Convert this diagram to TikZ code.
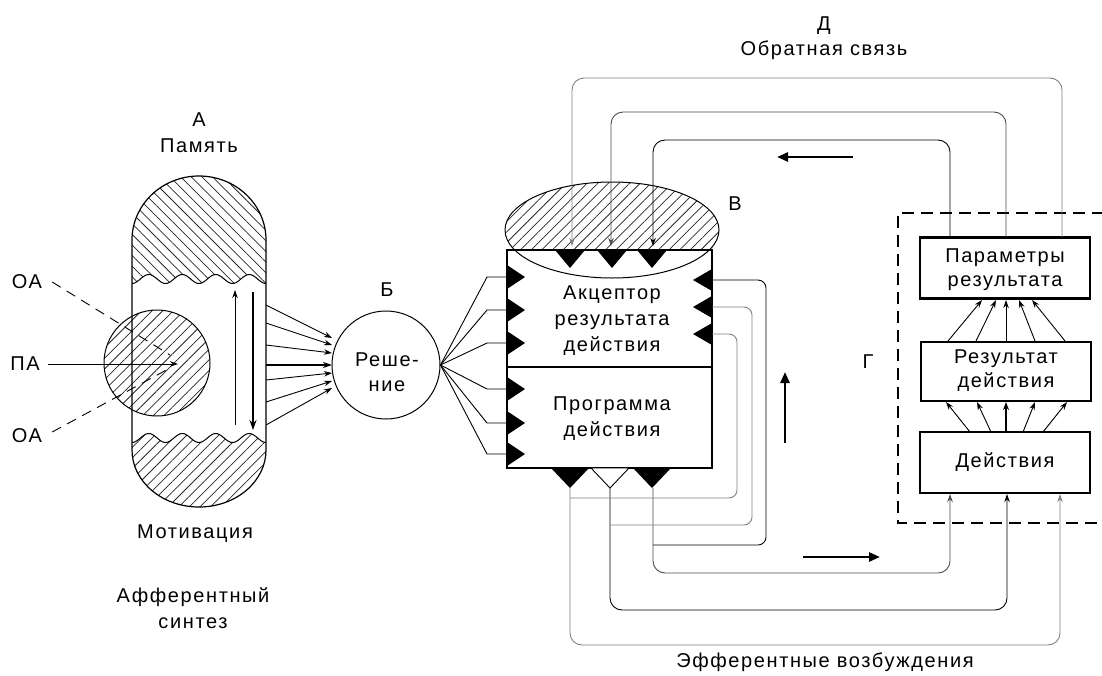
\documentclass[tikz,border=0pt]{standalone}
\usepackage{fontspec}
\setmainfont[LetterSpace=8]{Liberation Sans}
\usetikzlibrary{patterns.meta,arrows.meta,calc}
\tikzset{
  lbl/.style={font=\fontsize{20}{26}\selectfont, inner sep=0pt, align=center},
  rlbl/.style={font=\fontsize{20}{24}\selectfont, inner sep=0pt, align=center},
  conn/.style={line width=0.9pt, draw=black},
  gconn/.style={line width=0.9pt, draw=black!50},
  arr/.style={-{Stealth[length=8pt,width=5.5pt]}},
  bigarr/.style={line width=2.6pt,-{Triangle[length=11pt,width=9pt]}},
  hatchA/.style={pattern={Lines[angle=45,distance=7.5pt,line width=0.75pt]}, pattern color=black!85},
  hatchB/.style={pattern={Lines[angle=-45,distance=7.5pt,line width=0.75pt]}, pattern color=black!85},
  mainbox/.style={draw, line width=2.6pt, rectangle, inner sep=0pt},
  rbox/.style={draw, line width=2.6pt, rectangle, inner sep=0pt, minimum width=170pt},
  dashbox/.style={line width=2.4pt, dash pattern=on 12pt off 7pt},
}
\begin{document}
\begin{tikzpicture}[x=1pt,y=-1pt]
\path[use as bounding box] (0,0) rectangle (1102,675);

% ---------------- A: capsule ----------------
\fill[hatchB] plot[domain=132:266,samples=120] (\x,{279+4.5*cos((\x-132)*10.746)})
  -- (266,240) arc[start angle=0,end angle=-180,x radius=67,y radius=64] -- cycle;
\draw[line width=1pt] plot[domain=132:266,samples=120] (\x,{279+4.5*cos((\x-132)*10.746)});
\fill[hatchA] plot[domain=132:266,samples=120] (\x,{438+4.5*cos((\x-132)*10.746)})
  -- (266,450) arc[start angle=0,end angle=180,x radius=67,y radius=57] -- cycle;
\draw[line width=1pt] plot[domain=132:266,samples=120] (\x,{438+4.5*cos((\x-132)*10.746)});
\node[circle, draw, line width=1pt, minimum size=106pt, inner sep=0pt, hatchA] (PA) at (157,363) {};
\draw[line width=1.2pt] (132,240) arc[start angle=180,end angle=360,x radius=67,y radius=64]
  -- (266,450) arc[start angle=0,end angle=180,x radius=67,y radius=57] -- cycle;

\node[lbl] (lA) at (199,120) {А};
\node[lbl] (lMem) at (199,146) {Память};
\node[lbl] (lMot) at (195,534) {Мотивация};
\node[lbl] (lAff) at (193,608) {Афферентный\\синтез};

\node[lbl] (OA1) at (27,282) {ОА};
\node[lbl] (PAl) at (25,364) {ПА};
\node[lbl] (OA2) at (27,436) {ОА};
\coordinate (paT) at (178,364);
\draw[conn,arr] (PAl.east) ++(8,0) -- (paT);
\draw[conn,dash pattern=on 10pt off 7pt] ($(OA1.east)+(10,0)$) -- (170,355);
\draw[conn,dash pattern=on 10pt off 7pt] ($(OA2.east)+(10,-4)$) -- (170,368);

\draw[conn,arr] (235,425) -- (235,290);
\draw[line width=2pt,-{Stealth[length=10pt,width=7pt]}] (253,292) -- (253,430);

% ---------------- Б ----------------
\node[circle, draw, line width=1pt, minimum size=108pt, inner sep=0pt] (B) at (386,365) {};
\node[lbl, font=\fontsize{20}{25}\selectfont] (Btxt) at (387,372) {Реше-\\ние};
\node[lbl] (lB) at (387,290) {Б};
\foreach \ys/\ye in {305/338,323/345,345/353,380/373,402/381,425/388}
  \draw[conn,arr] (266,\ys) -- (332,\ye);
\draw[line width=2pt,-{Stealth[length=9pt,width=6pt]}] (266,365) -- (332,365);

% ---------------- В: acceptor + program ----------------
\fill[white] (507,250) rectangle (712,468);
\begin{scope}
  \clip (490,170) rectangle (730,250);
  \fill[hatchA] (612,230) ellipse[x radius=107, y radius=48];
\end{scope}
\draw[line width=1pt] (612,230) ellipse[x radius=107, y radius=48];
\node[mainbox, minimum width=205pt, minimum height=117pt] (acc) at (609.5,308.5) {};
\node[mainbox, minimum width=205pt, minimum height=101pt] (prog) at (609.5,417.5) {};
\node[lbl] (acctxt) at (612,321) {Акцептор\\результата\\действия};
\node[lbl] (progtxt) at (612,419) {Программа\\действия};
\node[lbl] (lV) at (735,204) {В};

\foreach \x in {570,612,652} \fill (\x-15,250) -- (\x+15,250) -- (\x,268) -- cycle;
\foreach \y in {277,310,343,389,423,454} \fill (507,\y-12) -- (525,\y) -- (507,\y+12) -- cycle;
\foreach \y in {280,307,334} \fill (712,\y-11) -- (693,\y) -- (712,\y+11) -- cycle;
\foreach \x in {570,652} \fill (\x-19,468) -- (\x+19,468) -- (\x,488) -- cycle;
\draw[conn,fill=white] (591,468) -- (629,468) -- (610,488) -- cycle;

% fan from Б to the box
\foreach \y in {277,310,343,389,423,454}
  \draw[conn] (B.east) -- (487,\y) -- (507,\y);

% ---------------- Г: right boxes ----------------
\draw[dashbox] (1104,213) -- (898,213) -- (898,523) -- (1104,523);
\node[lbl] (lG) at (868,362) {Г};
\node[rbox, minimum height=61pt] (par) at (1005,268) {};
\node[rlbl] (partxt) at (1005,270) {Параметры\\результата};
\node[rbox, minimum height=59pt] (res) at (1006,371.5) {};
\node[rlbl] (restxt) at (1006,371) {Результат\\действия};
\node[rbox, minimum height=61pt] (act) at (1005,462.5) {};
\node[lbl] (acttxt) at (1005,462) {Действия};

\foreach \xs/\xe in {948/982,976/996,1035/1019,1065/1032}
  \draw[conn,arr] (\xs,341) -- (\xe,300);
\draw[conn,arr] (1006,341) -- (1006,300);
\foreach \xs/\xe in {970/946,991/977,1023/1035,1043/1067}
  \draw[conn,arr] (\xs,432) -- (\xe,402);
\draw[line width=1.6pt,-{Stealth[length=8pt,width=6pt]}] (1006,432) -- (1006,402);

% ---------------- Д: feedback ----------------
\node[lbl] (lD) at (824,26) {Д};
\node[lbl] (lFb) at (824,50) {Обратная связь};
\draw[gconn,arr,rounded corners=12pt] (1062,237) -- (1062,78) -- (572,78) -- (572,246);
\draw[conn,draw=black!70,arr,rounded corners=12pt] (1006,237) -- (1006,112) -- (611,112) -- (611,246);
\draw[conn,arr,rounded corners=12pt] (950,237) -- (950,140) -- (653,140) -- (653,246);
\draw[bigarr] (853,157) -- (777,157);

% ---------------- efferent ----------------
\draw[gconn,arr,rounded corners=12pt] (570,488) -- (570,645) -- (1060,645) -- (1060,494);
\draw[conn,arr,rounded corners=12pt] (610,488) -- (610,610) -- (1007,610) -- (1007,494);
\draw[conn,draw=black!70,arr,rounded corners=12pt] (653,488) -- (653,573) -- (950,573) -- (950,494);
\draw[gconn,rounded corners=8pt] (570,498) -- (737,498) -- (737,334) -- (712,334);
\draw[gconn,rounded corners=8pt] (610,525) -- (752,525) -- (752,307) -- (712,307);
\draw[conn,rounded corners=8pt] (653,545) -- (766,545) -- (766,280) -- (712,280);
\draw[bigarr] (785,443) -- (785,372);
\draw[bigarr] (803,557) -- (880,557);
\node[lbl] (lEff) at (825,662) {Эфферентные возбуждения};
\end{tikzpicture}
\end{document}
